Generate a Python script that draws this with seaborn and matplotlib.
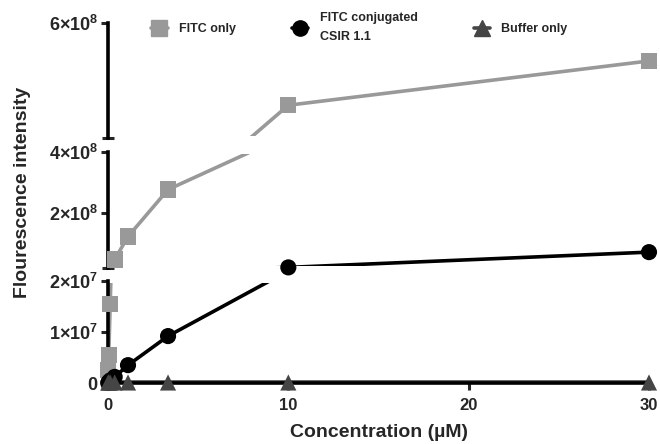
import matplotlib.pyplot as plt
import pandas as pd
import seaborn as sns
from matplotlib.lines import Line2D
from matplotlib.transforms import Bbox, TransformedBbox

# Data (concentration in uM)
conc = [0.0137, 0.041, 0.123, 0.37, 1.11, 3.33, 10, 30]
fitc_only = [2.5e6, 5.5e6, 1.55e7, 4.8e7, 1.23e8, 2.77e8, 4.57e8, 5.34e8]
fitc_csir = [0, 2e5, 5e5, 1.2e6, 3.5e6, 9.2e6, 2.2e7, 7.2e7]
buffer_only = [1e5, 1e5, 1e5, 1e5, 1e5, 1e5, 1e5, 1e5]

series_names = ['FITC only', 'FITC conjugated\nCSIR 1.1', 'Buffer only']
series_colors = ['#999999', '#000000', '#454545']
series_markers = ['s', 'o', '^']

x_ticks = [0, 10, 20, 30]

# broken y axis segments: (low, high, labelled ticks, tick labels)
segments = [
    (0, 2e7, [0, 1e7, 2e7], [r'$\mathbf{0}$', r'$\mathbf{1×10^{7}}$', r'$\mathbf{2×10^{7}}$']),
    (2e7, 4e8, [2e8, 4e8], [r'$\mathbf{2×10^{8}}$', r'$\mathbf{4×10^{8}}$']),
    (4e8, 6e8, [6e8], [r'$\mathbf{6×10^{8}}$']),
]

df = pd.DataFrame({
    'conc': conc * 3,
    'value': fitc_only + fitc_csir + buffer_only,
    'series': [s for s in series_names for _ in conc],
})

sns.set_style('ticks')
plt.rcParams['font.family'] = ['Liberation Sans', 'DejaVu Sans']
plt.rcParams['font.weight'] = 'bold'
plt.rcParams['mathtext.fontset'] = 'custom'
plt.rcParams['mathtext.rm'] = 'Liberation Sans'
plt.rcParams['mathtext.bf'] = 'Liberation Sans:bold'

palette = dict(zip(series_names, series_colors))
markers = dict(zip(series_names, series_markers))

fig = plt.figure(figsize=(6.6, 4.44), dpi=100)
W, H = 660, 444
left, right = 108, 649
# pixel rows (bottom, top) of each segment
seg_px = [(383, 281), (268, 152), (138, 23)]

axes = []
for i, ((lo, hi, ticks, labels), (pb, pt)) in enumerate(zip(segments, seg_px)):
    ax = fig.add_axes([left / W, (H - pb) / H, (right - left) / W, (pb - pt) / H])
    axes.append(ax)

    sns.lineplot(data=df, x='conc', y='value', hue='series', palette=palette,
                 estimator=None, linewidth=2.6, legend=False, ax=ax, zorder=2)

    # clip the lines a little inside the breaks so nearly-flat strokes don't bleed in
    inset = 2.2 / (pb - pt)
    y0 = -0.1 if i == 0 else inset
    y1 = 1.1 if i == len(segments) - 1 else 1 - inset
    clip = TransformedBbox(Bbox([[-0.05, y0], [1.05, y1]]), ax.transAxes)
    for line in ax.lines:
        line.set_clip_box(clip)

    if lo == 0:
        inside = df[(df['value'] >= lo - 0.01 * hi) & (df['value'] <= hi)]
    else:
        inside = df[(df['value'] >= lo) & (df['value'] <= hi)]
    sns.scatterplot(data=inside, x='conc', y='value', hue='series', style='series',
                    palette=palette, markers=markers, s=135, linewidth=0,
                    legend=False, ax=ax, clip_on=False, zorder=4)

    ax.set_xlim(0, 30)
    ax.set_ylim(lo, hi)
    ax.set_yticks(ticks)
    ax.set_yticklabels(labels)
    ax.set_yticks([lo, hi], minor=True)
    ax.tick_params(axis='y', which='major', length=5, width=2.2, labelsize=13, pad=2)
    ax.tick_params(axis='y', which='minor', direction='inout', length=8, width=2.2)
    ax.set_xlabel('')
    ax.set_ylabel('')
    ax.patch.set_alpha(0)
    for side in ['top', 'right']:
        ax.spines[side].set_visible(False)
    ax.spines['left'].set_linewidth(2.6)
    ax.spines['left'].set_color('black')

    if lo == 0:
        ax.set_xticks(x_ticks)
        ax.set_xticklabels([str(t) for t in x_ticks])
        ax.tick_params(axis='x', length=5, width=2.2, labelsize=12, pad=6)
        ax.spines['bottom'].set_linewidth(2.6)
        ax.spines['bottom'].set_color('black')
        for lab in ax.get_xticklabels():
            lab.set_fontweight('bold')
    else:
        ax.spines['bottom'].set_visible(False)
        ax.set_xticks([])

fig.text(0.5 * (left + right) / W, 12 / H, 'Concentration (µM)',
         ha='center', va='center', fontsize=14, fontweight='bold')
fig.text(23 / W, (H - 192) / H, 'Flourescence intensity', rotation=90,
         ha='center', va='center', fontsize=14, fontweight='bold')

handles = [Line2D([], [], color=c, marker=m, markersize=11, linestyle='-', linewidth=2.6)
           for c, m in zip(series_colors, series_markers)]
leg = fig.legend(handles, series_names, ncol=3, loc='upper left',
                 bbox_to_anchor=(140 / W, 1 - 1 / H), frameon=False,
                 prop={'size': 9, 'weight': 'bold'}, handlelength=1.3,
                 handletextpad=0.9, columnspacing=4.5)
for t in leg.get_texts():
    t.set_linespacing(1.7)

fig.savefig('out.png', dpi=100)
